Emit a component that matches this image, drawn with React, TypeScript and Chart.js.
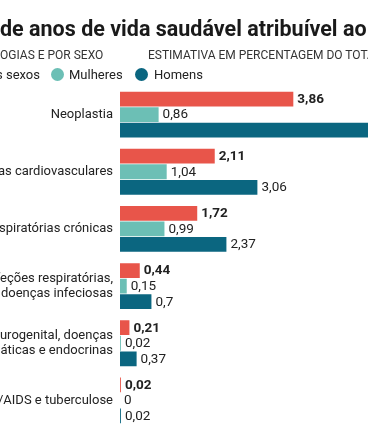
import React, { useEffect, useRef } from "react";
import { Chart, registerables } from "chart.js";

Chart.register(...registerables);

// ---- Data ----
const categories: string[][] = [
  ["Neoplastia"],
  ["Doenças cardiovasculares"],
  ["Doenças respiratórias crónicas"],
  ["Infeções respiratórias,", "doenças infeciosas"],
  ["Doenças do sistema urogenital, doenças", "hematológicas, hepáticas e endocrinas"],
  ["HIV/AIDS e tuberculose"],
];
const ambosValues = [3.86, 2.11, 1.72, 0.44, 0.21, 0.02];
const mulheresValues = [0.86, 1.04, 0.99, 0.15, 0.02, 0];
const homensValues = [6.91, 3.06, 2.37, 0.7, 0.37, 0.02];
const seriesNames = ["Ambos os sexos", "Mulheres", "Homens"];

const COLORS = ["#E8554A", "#6CBFB5", "#0B6680"];
const FONT = "Roboto, 'Noto Sans', sans-serif";

const OFF = 260; // canvas shifted left (reference is a crop)
const W = OFF + 520;
const H = 445;

const fmt = (v: number) => String(v).replace(".", ",");

const valueLabels = {
  id: "valueLabels",
  afterDatasetsDraw(chart: any) {
    const ctx = chart.ctx;
    ctx.save();
    ctx.textBaseline = "middle";
    ctx.textAlign = "left";
    chart.data.datasets.forEach((ds: any, i: number) => {
      const meta = chart.getDatasetMeta(i);
      meta.data.forEach((bar: any, j: number) => {
        const v = ds.data[j];
        ctx.font = `${i === 0 ? "bold " : ""}13.5px ${FONT}`;
        ctx.fillStyle = "#222";
        ctx.fillText(fmt(v), bar.x + 4, bar.y + 0.5);
      });
    });
    ctx.restore();
  },
};

export default function App() {
  const ref = useRef<HTMLCanvasElement | null>(null);

  useEffect(() => {
    if (!ref.current) return;
    const chart = new Chart(ref.current, {
      type: "bar",
      data: {
        labels: categories,
        datasets: [ambosValues, mulheresValues, homensValues].map((d, i) => ({
          label: seriesNames[i],
          data: d,
          backgroundColor: COLORS[i],
          borderWidth: 0,
          barPercentage: 0.95,
          categoryPercentage: 0.816,
        })),
      },
      options: {
        indexAxis: "y",
        responsive: false,
        maintainAspectRatio: false,
        animation: false,
        devicePixelRatio: 1,
        layout: { padding: { top: 86, bottom: 16, left: 0, right: W - (OFF + 120 + 44.9 * 8) } },
        plugins: {
          legend: { display: false },
          tooltip: { enabled: false },
          title: { display: false },
        },
        scales: {
          x: {
            display: false,
            min: 0,
            max: 8,
          },
          y: {
            display: true,
            grid: { display: false, drawTicks: false },
            border: { display: false },
            ticks: {
              padding: 7,
              color: "#222",
              font: { family: FONT, size: 13, lineHeight: 1.12 },
            },
            afterFit: (scale: any) => {
              scale.width = OFF + 120;
            },
          },
        },
      },
      plugins: [valueLabels],
    });
    (document as any).fonts?.ready?.then(() => chart.update());
    return () => chart.destroy();
  }, []);

  const abs = (s: React.CSSProperties): React.CSSProperties => ({
    position: "absolute",
    whiteSpace: "nowrap",
    fontFamily: FONT,
    ...s,
  });
  const dot = (c: string): React.CSSProperties => ({
    display: "inline-block",
    width: 13,
    height: 13,
    borderRadius: "50%",
    background: c,
    verticalAlign: "top",
    marginTop: 0,
  });

  return (
    <div
      style={{
        position: "fixed",
        left: 0,
        top: 0,
        width: 368,
        height: H,
        overflow: "hidden",
        background: "#fff",
      }}
    >
      <div style={{ position: "absolute", left: -OFF, top: 0, width: W, height: H }}>
        <canvas ref={ref} width={W} height={H} style={{ width: W, height: H, display: "block" }} />
      </div>

      <div style={abs({ left: 0, top: 17.9, fontSize: 21.5, lineHeight: "21.5px", fontWeight: 700, color: "#1a1a1a" })}>
        <span style={{ position: "absolute", right: "100%" }}>Percentagem&nbsp;</span>
        de anos de vida saudável atribuível ao tabaco
      </div>

      <div style={abs({ left: 0, top: 49.2, fontSize: 12, lineHeight: "12px", color: "#333" })}>
        <span style={{ position: "absolute", right: "100%" }}>POR PATOL</span>
        OGIAS E POR SEXO
      </div>
      <div style={abs({ left: 148, top: 49.2, fontSize: 12, lineHeight: "12px", color: "#333" })}>
        ESTIMATIVA EM PERCENTAGEM DO TOTAL
      </div>

      <div style={abs({ right: 328, top: 68, fontSize: 13, lineHeight: "13px", color: "#222" })}>
        <span style={{ ...dot(COLORS[0]), marginRight: 6 }} />
        {seriesNames[0]}
      </div>
      <div style={abs({ left: 51, top: 68, fontSize: 13, lineHeight: "13px", color: "#222" })}>
        <span style={{ ...dot(COLORS[1]), marginRight: 5 }} />
        {seriesNames[1]}
      </div>
      <div style={abs({ left: 135, top: 68, fontSize: 13, lineHeight: "13px", color: "#222" })}>
        <span style={{ ...dot(COLORS[2]), marginRight: 6 }} />
        {seriesNames[2]}
      </div>
    </div>
  );
}
